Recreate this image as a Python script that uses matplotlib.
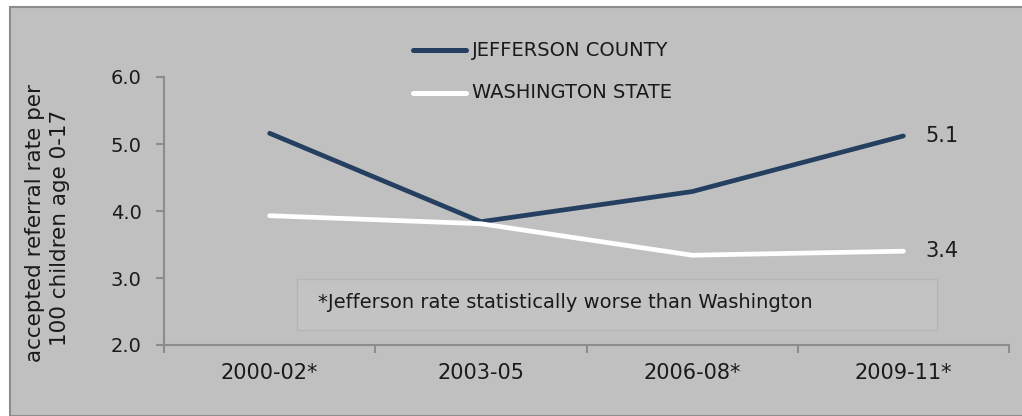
import matplotlib
matplotlib.use("Agg")
import matplotlib.pyplot as plt
from matplotlib.patches import Rectangle

plt.rcParams['font.family'] = ['DejaVu Sans']

periods = ['2000-02*', '2003-05', '2006-08*', '2009-11*']
jefferson = [5.16, 3.84, 4.29, 5.12]
washington = [3.93, 3.81, 3.34, 3.40]
series_names = ['JEFFERSON COUNTY', 'WASHINGTON STATE']
note = '*Jefferson rate statistically worse than Washington'

navy = '#243F60'
bg = '#C0C0C0'
axis_col = '#8C8C8C'
txt = '#1a1a1a'

W, H = 1022, 416
fig = plt.figure(figsize=(W / 100, H / 100), dpi=100)
fig.patch.set_facecolor('white')

# chart area background with border
fig.patches.append(Rectangle((10 / W, 0), 1.2, 1 - 7 / H, transform=fig.transFigure,
                             facecolor=bg, edgecolor=axis_col, linewidth=1.5, zorder=-2))

# note box (behind the lines)
fig.patches.append(Rectangle((297 / W, 1 - 330 / H), (937 - 297) / W, (330 - 279) / H,
                             transform=fig.transFigure, facecolor='#C3C3C3',
                             edgecolor='#B5B5B5', linewidth=1, zorder=-1))

ax = fig.add_axes([164 / W, 1 - 345 / H, (1009 - 164) / W, (345 - 77) / H])
ax.set_facecolor('none')
ax.set_zorder(2)

x = list(range(len(periods)))
ax.plot(x, jefferson, color=navy, lw=3.4, solid_capstyle='round', zorder=3)
ax.plot(x, washington, color='white', lw=3.4, solid_capstyle='round', zorder=3)

ax.set_xlim(-0.5, len(periods) - 0.5)
ax.set_ylim(2.0, 6.0)
ax.set_yticks([2.0, 3.0, 4.0, 5.0, 6.0])
ax.set_yticklabels(['%.1f' % v for v in [2.0, 3.0, 4.0, 5.0, 6.0]])
ax.set_xticks([i - 0.5 for i in range(len(periods) + 1)])
ax.set_xticklabels([])
ax.set_xticks(x, minor=True)
ax.set_xticklabels(periods, minor=True)
ax.tick_params(axis='x', which='minor', length=0, pad=13, labelsize=15, colors=txt)
ax.tick_params(axis='x', which='major', length=6, direction='out', color=axis_col, width=1.5)
ax.tick_params(axis='y', length=6, direction='out', color=axis_col, width=1.5,
               pad=10, labelsize=14, labelcolor=txt)

for s in ['top', 'right']:
    ax.spines[s].set_visible(False)
for s in ['left', 'bottom']:
    ax.spines[s].set_color(axis_col)
    ax.spines[s].set_linewidth(1.5)

# end labels
ax.annotate('%.1f' % jefferson[-1], (x[-1], jefferson[-1]), xytext=(16, 0),
            textcoords='offset points', va='center', ha='left', fontsize=15, color=txt)
ax.annotate('%.1f' % washington[-1], (x[-1], washington[-1]), xytext=(16, 0),
            textcoords='offset points', va='center', ha='left', fontsize=15, color=txt)

# legend
for i, (name, col) in enumerate(zip(series_names, [navy, 'white'])):
    yy = 1 - (50 + 43 * i) / H
    fig.add_artist(plt.Line2D([413 / W, 466 / W], [yy, yy], color=col, lw=3.6,
                              solid_capstyle='round', transform=fig.transFigure))
    fig.text(472 / W, yy, name, va='center', ha='left', fontsize=14, color=txt)

fig.text(318 / W, 1 - 303 / H, note, va='center', ha='left', fontsize=14, color=txt)

# y label
fig.text(35 / W, 1 - 223 / H, 'accepted referral rate per', rotation=90,
         va='center', ha='center', fontsize=15.5, color=txt)
fig.text(60 / W, 1 - 228 / H, '100 children age 0-17', rotation=90,
         va='center', ha='center', fontsize=15.5, color=txt)

fig.savefig('out.png', dpi=100, facecolor=fig.get_facecolor())
